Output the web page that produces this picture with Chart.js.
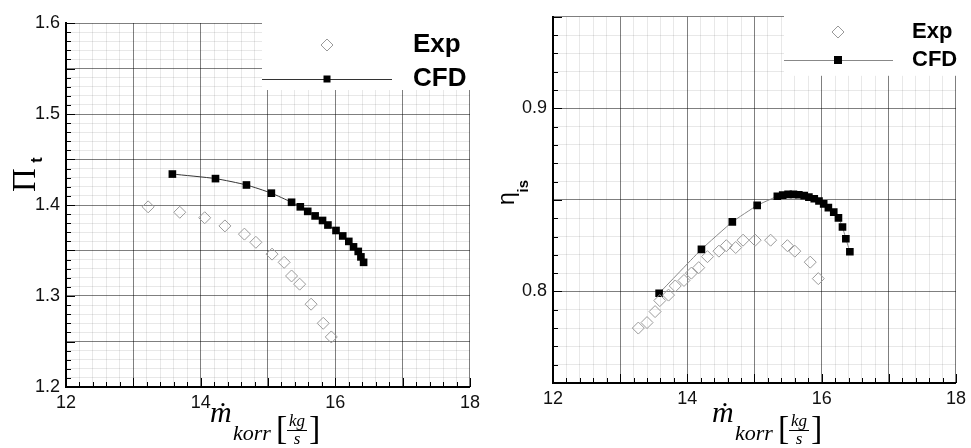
<!DOCTYPE html>
<html>
<head>
<meta charset="utf-8">
<script src="https://cdn.jsdelivr.net/npm/chart.js@4.4.1/dist/chart.umd.min.js"></script>
<style>
html, body { margin: 0; padding: 0; background: #fff; }
#wrap { position: relative; width: 971px; height: 448px; overflow: hidden; }
canvas { position: absolute; top: 0; }
#c1 { left: 0; }
#c2 { left: 485px; }
</style>
</head>
<body>
<div id="wrap">
  <canvas id="c1" width="485" height="448"></canvas>
  <canvas id="c2" width="486" height="448"></canvas>
</div>
<script>
// tick labels
const xTickLabels = [12, 14, 16, 18];
const piTickLabels = [1.2, 1.3, 1.4, 1.5, 1.6];
const etaTickLabels = [0.8, 0.9];

// total pressure ratio
const piExpX = [13.22, 13.69, 14.06, 14.36, 14.65, 14.82, 15.06, 15.24, 15.35, 15.47, 15.64, 15.82, 15.94];
const piExpY = [1.398, 1.392, 1.386, 1.377, 1.368, 1.359, 1.346, 1.337, 1.322, 1.313, 1.291, 1.270, 1.255];
const piCfdX = [13.58, 14.22, 14.68, 15.05, 15.35, 15.48, 15.59, 15.70, 15.81, 15.89, 16.01, 16.11, 16.20, 16.27, 16.34, 16.38, 16.42];
const piCfdY = [1.434, 1.429, 1.422, 1.413, 1.403, 1.398, 1.393, 1.388, 1.383, 1.378, 1.372, 1.366, 1.360, 1.354, 1.349, 1.343, 1.337];

// isentropic efficiency
const etaExpX = [13.27, 13.40, 13.52, 13.59, 13.72, 13.82, 13.95, 14.06, 14.17, 14.30, 14.47, 14.58, 14.72, 14.83, 15.01, 15.24, 15.49, 15.60, 15.83, 15.95];
const etaExpY = [0.780, 0.783, 0.789, 0.795, 0.798, 0.803, 0.806, 0.810, 0.813, 0.819, 0.822, 0.825, 0.824, 0.828, 0.828, 0.828, 0.825, 0.822, 0.816, 0.807];
const etaCfdX = [13.58, 14.21, 14.67, 15.04, 15.34, 15.42, 15.50, 15.58, 15.66, 15.74, 15.81, 15.89, 15.96, 16.03, 16.10, 16.18, 16.25, 16.31, 16.36, 16.42];
const etaCfdY = [0.799, 0.823, 0.838, 0.847, 0.852, 0.8526, 0.853, 0.853, 0.8528, 0.8523, 0.8515, 0.8506, 0.8494, 0.8478, 0.8458, 0.8433, 0.8402, 0.8352, 0.8288, 0.8217];

const pts = (xs, ys) => xs.map((x, i) => ({ x: x, y: ys[i] }));
const near = (v, step) => Math.abs(v / step - Math.round(v / step)) < 1e-6;
const inList = (v, list) => list.some(t => Math.abs(t - v) < 1e-6);

const SANS = '"Liberation Sans", Arial, sans-serif';
const SERIF = '"Liberation Serif", "Times New Roman", serif';

// white legend box with markers
const legendPlugin = {
    id: 'boxLegend',
    beforeDatasetsDraw(chart, args, o) {
        const ctx = chart.ctx;
        const a = chart.chartArea;
        ctx.save();
        ctx.fillStyle = '#fff';
        ctx.fillRect(a.left + o.boxLeft, 0, chart.width, a.top + o.boxBottom);
        ctx.restore();
    },
    afterDatasetsDraw(chart, args, o) {
        const ctx = chart.ctx;
        const a = chart.chartArea;
        const mx = a.left + o.markX;
        ctx.save();
        // Exp
        ctx.strokeStyle = '#999';
        ctx.lineWidth = 1;
        ctx.beginPath();
        ctx.moveTo(mx - o.dr, o.y1); ctx.lineTo(mx, o.y1 - o.dr);
        ctx.lineTo(mx + o.dr, o.y1); ctx.lineTo(mx, o.y1 + o.dr);
        ctx.closePath(); ctx.stroke();
        // CFD
        ctx.strokeStyle = o.lineColor;
        ctx.beginPath();
        ctx.moveTo(a.left + o.boxLeft, o.y2 + 0.5); ctx.lineTo(a.left + o.lineEnd, o.y2 + 0.5);
        ctx.stroke();
        ctx.fillStyle = '#000';
        ctx.fillRect(mx - o.sq / 2, o.y2 - o.sq / 2, o.sq, o.sq);
        ctx.font = 'bold ' + o.fontSize + 'px ' + SANS;
        ctx.textBaseline = 'middle';
        ctx.fillText('Exp', o.textX, o.y1);
        ctx.fillText('CFD', o.textX, o.y2);
        ctx.restore();
    }
};

// tick marks inside the axes
const innerTicks = {
    id: 'innerTicks',
    afterDraw(chart, args, o) {
        const ctx = chart.ctx;
        const xs = chart.scales.x, ys = chart.scales.y;
        ctx.save();
        ctx.strokeStyle = '#000';
        ctx.lineWidth = 1;
        ctx.beginPath();
        xs.ticks.forEach(t => {
            const p = Math.round(xs.getPixelForValue(t.value)) + 0.5;
            const len = near(t.value, 1) ? 9 : 5;
            ctx.moveTo(p, xs.top); ctx.lineTo(p, xs.top - len);
        });
        ys.ticks.forEach(t => {
            const p = Math.round(ys.getPixelForValue(t.value)) + 0.5;
            const len = near(t.value, o.yMajor) ? 9 : 5;
            ctx.moveTo(ys.right, p); ctx.lineTo(ys.right + len, p);
        });
        ctx.stroke();
        ctx.restore();
    }
};

// axis titles
const titlesPlugin = {
    id: 'titles',
    afterDraw(chart, args, o) {
        const ctx = chart.ctx;
        ctx.save();
        ctx.fillStyle = '#000';
        // x title: m-dot korr [kg/s]
        const x0 = o.xTitleX, b = 422;
        ctx.textAlign = 'left';
        ctx.textBaseline = 'alphabetic';
        ctx.font = 'italic 30px ' + SERIF;
        ctx.fillText('ṁ', x0, b);
        ctx.font = 'italic 22px ' + SERIF;
        ctx.fillText('korr', x0 + 23, b + 18);
        ctx.font = '34px ' + SERIF;
        ctx.fillText('[', x0 + 66, b + 17);
        ctx.fillText(']', x0 + 99, b + 17);
        ctx.font = 'italic 17px ' + SERIF;
        ctx.textAlign = 'center';
        ctx.fillText('kg', x0 + 87, b + 4);
        ctx.fillText('s', x0 + 87, b + 22);
        ctx.fillRect(x0 + 77, b + 8, 20, 1);
        // y title
        ctx.translate(o.yTitleX, o.yTitleY);
        ctx.rotate(-Math.PI / 2);
        if (o.kind === 'pi') {
            ctx.font = '33px ' + SERIF;
            ctx.textAlign = 'center';
            ctx.fillText('Π', 0, 0);
            ctx.font = 'bold 16px ' + SANS;
            ctx.fillText('t', 20, 7);
        } else {
            ctx.font = '23px ' + SANS;
            ctx.textAlign = 'center';
            ctx.fillText('η', 0, 0);
            ctx.textAlign = 'left';
            ctx.font = 'bold 15px ' + SANS;
            ctx.fillText('is', 6, 14);
        }
        ctx.restore();
    }
};

function makeChart(id, c) {
    const W = c.width, H = 448;
    return new Chart(document.getElementById(id), {
        type: 'scatter',
        data: {
            datasets: [
                {
                    label: 'Exp',
                    data: pts(c.expX, c.expY),
                    pointStyle: 'rectRot',
                    pointRadius: 6,
                    borderColor: '#9a9a9a',
                    backgroundColor: 'rgba(0,0,0,0)',
                    pointBorderWidth: 1,
                    showLine: false
                },
                {
                    label: 'CFD',
                    data: pts(c.cfdX, c.cfdY),
                    pointStyle: 'rect',
                    pointRadius: 5.4,
                    backgroundColor: '#000',
                    pointBorderColor: '#000',
                    pointBorderWidth: 0,
                    borderColor: c.lineColor,
                    borderWidth: 1,
                    showLine: true,
                    tension: c.tension
                }
            ]
        },
        options: {
            responsive: false,
            animation: false,
            events: [],
            layout: { padding: { top: c.area.top, right: W - c.area.right, left: 0, bottom: 0 } },
            plugins: {
                legend: { display: false },
                tooltip: { enabled: false },
                boxLegend: c.legend,
                innerTicks: { yMajor: 0.05 },
                titles: c.titles
            },
            scales: {
                x: {
                    type: 'linear', min: 12, max: 18,
                    afterFit: s => { s.height = H - c.area.bottom; },
                    ticks: {
                        stepSize: 0.2, maxTicksLimit: 1000, autoSkip: false, maxRotation: 0,
                        padding: 5, color: '#111', font: { family: SANS, size: 18 },
                        callback: v => inList(v, xTickLabels) ? String(Math.round(v)) : ''
                    },
                    grid: {
                        drawTicks: false,
                        color: t => near(t.tick.value, 1) ? 'rgba(0,0,0,0.5)' : 'rgba(0,0,0,0.09)'
                    },
                    border: { color: '#000', width: 2 }
                },
                y: {
                    type: 'linear', min: c.yMin, max: c.yMax,
                    afterFit: s => { s.width = c.area.left; },
                    ticks: {
                        stepSize: 0.01, maxTicksLimit: 1000, autoSkip: false,
                        padding: 6, color: '#111', font: { family: SANS, size: 18 },
                        callback: v => inList(v, c.yLabels) ? v.toFixed(1) : ''
                    },
                    grid: {
                        drawTicks: false,
                        color: t => near(t.tick.value, 0.05) ? 'rgba(0,0,0,0.5)' : 'rgba(0,0,0,0.09)'
                    },
                    border: { color: '#000', width: 2 }
                }
            }
        },
        plugins: [legendPlugin, innerTicks, titlesPlugin]
    });
}

makeChart('c1', {
    width: 485,
    expX: piExpX, expY: piExpY, cfdX: piCfdX, cfdY: piCfdY,
    yMin: 1.2, yMax: 1.6, yLabels: piTickLabels,
    lineColor: '#333', tension: 0.2,
    area: { left: 66, top: 23, right: 471, bottom: 387 },
    legend: { boxLeft: 196, boxBottom: 67, markX: 261, dr: 6, sq: 7, y1: 45, y2: 79,
              lineEnd: 326, lineColor: '#333', textX: 413, fontSize: 26 },
    titles: { kind: 'pi', xTitleX: 210, yTitleX: 35, yTitleY: 180 }
});

makeChart('c2', {
    width: 486,
    expX: etaExpX, expY: etaExpY, cfdX: etaCfdX, cfdY: etaCfdY,
    yMin: 0.75, yMax: 0.95, yLabels: etaTickLabels,
    lineColor: '#888', tension: 0.1,
    area: { left: 68, top: 11, right: 476, bottom: 383 },
    legend: { boxLeft: 231, boxBottom: 59, markX: 285, dr: 6, sq: 8, y1: 32, y2: 60,
              lineEnd: 340, lineColor: '#888', textX: 427, fontSize: 22 },
    titles: { kind: 'eta', xTitleX: 227, yTitleX: 28.5, yTitleY: 198.5 }
});
</script>
</body>
</html>
